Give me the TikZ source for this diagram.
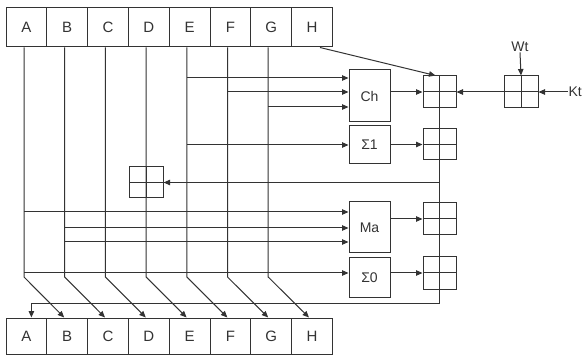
\documentclass[tikz,border=0pt]{standalone}
\usepackage{fontspec}
\setmainfont{Liberation Sans}
\usetikzlibrary{arrows.meta}
\begin{document}
\begin{tikzpicture}[x=1pt,y=-1pt,line width=1pt,color=black!80,
  >={Triangle[length=6.5pt,width=5.5pt]},
  reg/.style={draw,minimum width=40.8pt,minimum height=39pt,inner sep=0pt,font=\fontsize{15}{15}\selectfont},
  breg/.style={reg,minimum height=36pt},
  fn/.style={draw,minimum width=41pt,inner sep=0pt,font=\fontsize{14}{14}\selectfont},
  adder/.style={draw,minimum width=33pt,minimum height=32pt,inner sep=0pt,
    path picture={\draw (path picture bounding box.north) -- (path picture bounding box.south)
      (path picture bounding box.west) -- (path picture bounding box.east);}},
  lbl/.style={inner sep=0pt,font=\fontsize{14}{14}\selectfont}]
\useasboundingbox (0,0) rectangle (586,355);
% registers
\foreach \n [count=\i from 0] in {A,B,C,D,E,F,G,H}{
  \node[reg]  (t\n) at (26.4+40.8*\i,27.5) {\n};
  \node[breg] (b\n) at (26.4+40.8*\i,336) {\n};
}
% column coordinates
\foreach \n [count=\i from 0] in {A,B,C,D,E,F,G}{
  \coordinate (c\n) at (24+40.7*\i,0);
}
% function boxes
\node[fn,minimum height=52pt] (Ch)  at (369.5,96)    {Ch};
\node[fn,minimum height=38pt] (S1)  at (369.5,145)   {Σ1};
\node[fn,minimum height=51pt] (Maj) at (369.5,227.5) {Ma};
\node[fn,minimum height=39pt] (S0)  at (369.5,277.5) {Σ0};
% adders
\node[adder] (add1)  at (439.5,92)  {};
\node[adder,minimum height=31pt] (addS1) at (439.5,144.5) {};
\node[adder,minimum width=34pt,minimum height=31pt] (addD) at (146.1,182.5) {};
\node[adder] (addM)  at (439.5,219) {};
\node[adder] (addS0) at (439.5,273) {};
\node[adder,minimum width=34pt] (addW) at (521,92) {};
% labels
\node[lbl] (Wt) at (520,47) {Wt};
\node[lbl,anchor=west] (Kt) at (568,92) {Kt};
% vertical columns shifting to next register
\draw[->] (cA |- tA.south) -- (cA |- 0,277) -- ([xshift=-3pt]bB.north);
\draw[->] (cB |- tB.south) -- (cB |- 0,277) -- ([xshift=-3pt]bC.north);
\draw[->] (cC |- tC.south) -- (cC |- 0,277) -- ([xshift=-3pt]bD.north);
\draw[->] (cD |- tD.south) -- (cD |- 0,277) -- ([xshift=-3pt]bE.north);
\draw[->] (cE |- tE.south) -- (cE |- 0,277) -- ([xshift=-3pt]bF.north);
\draw[->] (cF |- tF.south) -- (cF |- 0,277) -- ([xshift=-3pt]bG.north);
\draw[->] (cG |- tG.south) -- (cG |- 0,277) -- ([xshift=-3pt]bH.north);
% H into first adder
\draw[->] ([xshift=8pt]tH.south) -- ([xshift=-4pt]add1.north);
% Ch inputs
\draw[->] (cE |- 0,78)  -- (Ch.west |- 0,78);
\draw[->] (cF |- 0,92)  -- (Ch.west |- 0,92);
\draw[->] (cG |- 0,107) -- (Ch.west |- 0,107);
% Sigma1 input
\draw[->] (cE |- S1.west) -- (S1.west);
% Maj inputs
\draw[->] (cA |- 0,212) -- (Maj.west |- 0,212);
\draw[->] (cB |- 0,228) -- (Maj.west |- 0,228);
\draw[->] (cB |- 0,242) -- (Maj.west |- 0,242);
% Sigma0 input
\draw[->] (cA |- 0,273) -- (S0.west |- 0,273);
% outputs into adders
\draw[->] (Ch.east |- add1.west)   -- (add1.west);
\draw[->] (S1.east |- addS1.west)  -- (addS1.west);
\draw[->] (Maj.east |- addM.west)  -- (addM.west);
\draw[->] (S0.east |- addS0.west)  -- (addS0.west);
% Wt, Kt
\draw[->] (Wt.south) -- (addW.north);
\draw[->] (Kt.west) -- (addW.east);
\draw[->] (addW.west) -- (add1.east);
% main vertical chain and feedback to A
\coordinate (aIn) at ([xshift=5pt]bA.north);
\draw[->] (add1.north) -- (add1.north |- 0,303) -- (aIn |- 0,303) -- (aIn);
% feed into D adder
\draw[->] (add1.north |- addD.east) -- (addD.east);
\end{tikzpicture}
\end{document}
